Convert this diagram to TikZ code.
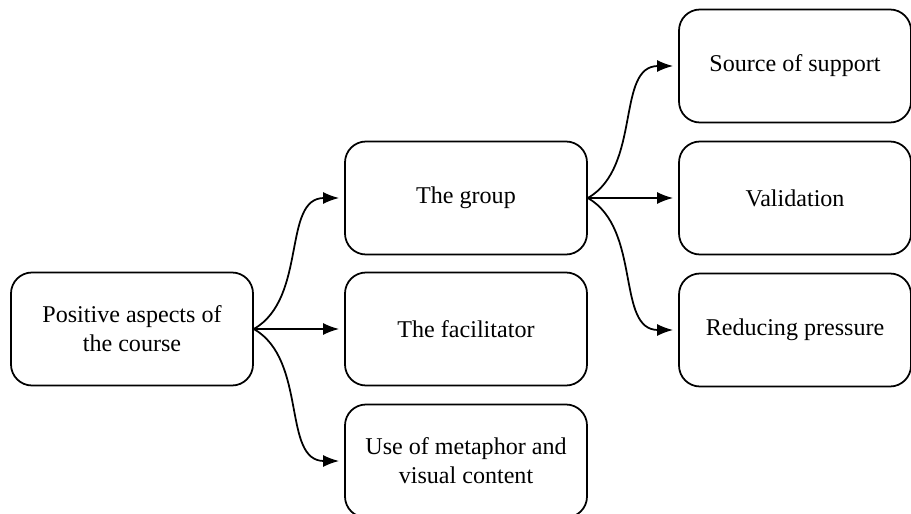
\documentclass[tikz,border=0pt]{standalone}
\usepackage{fontspec}
\setmainfont{Liberation Serif}
\usetikzlibrary{arrows.meta}
\begin{document}
\begin{tikzpicture}[
    theme/.style={draw, line width=1pt, rounded corners=0.42cm, minimum width=4.84cm, minimum height=2.26cm, align=center, font=\fontsize{13.7}{16.5}\selectfont},
    link/.style={-{Latex[length=0.32cm, width=0.24cm]}, line width=1pt, shorten >=0.1cm}
]
    \useasboundingbox (0,0) rectangle (18.22,-10.28);

    % Hauptthema
    \node[theme] (course) at (2.64,-6.58) {Positive aspects of\\the course};

    % Unterthemen
    \node[theme] (group) at (9.32,-3.96) {The group};
    \node[theme] (facil) at (9.32,-6.58) {The facilitator};
    \node[theme] (metaphor) at (9.32,-9.22) {Use of metaphor and\\visual content};

    % Unterthemen der Gruppe
    \node[theme, minimum width=4.64cm] (support) at (15.9,-1.32) {Source of support};
    \node[theme, minimum width=4.64cm] (valid) at (15.9,-3.96) {Validation};
    \node[theme, minimum width=4.64cm] (pressure) at (15.9,-6.6) {Reducing pressure};

    % Verbindungen
    \draw[link] (course.east) to[out=30, in=180] (group.west);
    \draw[link] (course.east) -- (facil.west);
    \draw[link] (course.east) to[out=-30, in=180] (metaphor.west);

    \draw[link] (group.east) to[out=30, in=180] (support.west);
    \draw[link] (group.east) -- (valid.west);
    \draw[link] (group.east) to[out=-30, in=180] (pressure.west);
\end{tikzpicture}
\end{document}
